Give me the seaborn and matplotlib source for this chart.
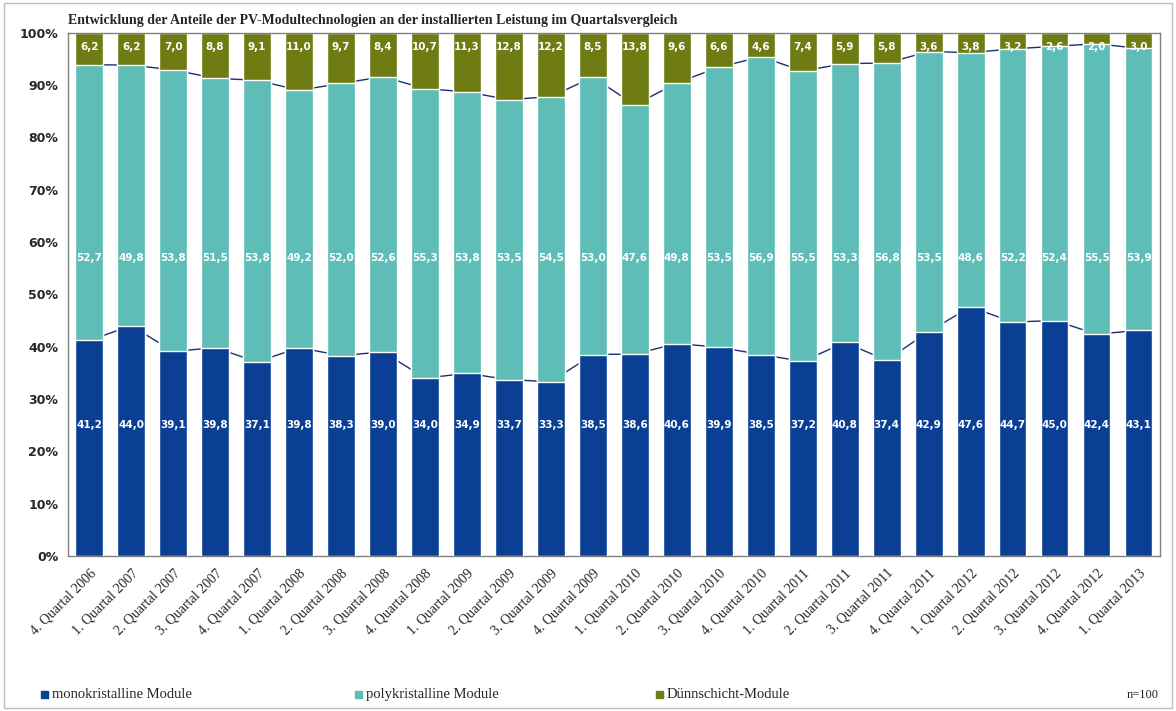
import matplotlib
matplotlib.use("Agg")
import matplotlib.pyplot as plt
from matplotlib.patches import Rectangle
import seaborn as sns
import numpy as np
import pandas as pd

quarters = ["4. Quartal 2006",
            "1. Quartal 2007", "2. Quartal 2007", "3. Quartal 2007", "4. Quartal 2007",
            "1. Quartal 2008", "2. Quartal 2008", "3. Quartal 2008", "4. Quartal 2008",
            "1. Quartal 2009", "2. Quartal 2009", "3. Quartal 2009", "4. Quartal 2009",
            "1. Quartal 2010", "2. Quartal 2010", "3. Quartal 2010", "4. Quartal 2010",
            "1. Quartal 2011", "2. Quartal 2011", "3. Quartal 2011", "4. Quartal 2011",
            "1. Quartal 2012", "2. Quartal 2012", "3. Quartal 2012", "4. Quartal 2012",
            "1. Quartal 2013"]
mono = [41.2, 44.0, 39.1, 39.8, 37.1, 39.8, 38.3, 39.0, 34.0, 34.9, 33.7, 33.3, 38.5,
        38.6, 40.6, 39.9, 38.5, 37.2, 40.8, 37.4, 42.9, 47.6, 44.7, 45.0, 42.4, 43.1]
poly = [52.7, 49.8, 53.8, 51.5, 53.8, 49.2, 52.0, 52.6, 55.3, 53.8, 53.5, 54.5, 53.0,
        47.6, 49.8, 53.5, 56.9, 55.5, 53.3, 56.8, 53.5, 48.6, 52.2, 52.4, 55.5, 53.9]
thin = [6.2, 6.2, 7.0, 8.8, 9.1, 11.0, 9.7, 8.4, 10.7, 11.3, 12.8, 12.2, 8.5,
        13.8, 9.6, 6.6, 4.6, 7.4, 5.9, 5.8, 3.6, 3.8, 3.2, 2.6, 2.0, 3.0]

c_mono, c_poly, c_thin = "#0b3f93", "#5ebdb6", "#6e7c13"

df = pd.DataFrame({"q": quarters, "mono": mono, "poly": poly, "thin": thin})
df["mp"] = df["mono"] + df["poly"]
# shares are rounded; stacked bars are shown at 100 %
df["top"] = 100.0

sns.set_style("white")
plt.rcParams["font.family"] = ["Liberation Serif", "DejaVu Serif"]

fig = plt.figure(figsize=(11.76, 7.11), dpi=100)
fig.patches.append(Rectangle((0.003, 0.004), 0.994, 0.992, transform=fig.transFigure,
                             fill=False, edgecolor="#bfbfbf", lw=1))
ax = fig.add_axes([0.058, 0.218, 0.928, 0.736])

x = np.arange(len(quarters))
ax.plot(x, df["mono"], color="#1a2f6e", lw=1, zorder=0)
ax.plot(x, df["mp"], color="#1a2f6e", lw=1, zorder=0)
w = 0.66
sns.barplot(data=df, x="q", y="top", color=c_thin, width=w, saturation=1, ax=ax, zorder=1)
sns.barplot(data=df, x="q", y="mp", color=c_poly, width=w, saturation=1, ax=ax, zorder=2)
sns.barplot(data=df, x="q", y="mono", color=c_mono, width=w, saturation=1, ax=ax, zorder=3)

fmt = lambda v: f"{v:.1f}".replace(".", ",")
for i in x:
    for yv, val in ((25, mono[i]), (57, poly[i]), (97.2, thin[i])):
        ax.text(i, yv, fmt(val), color="white", ha="center", va="center", fontsize=7.5,
                fontweight="bold", family="DejaVu Sans", zorder=5)

ax.set_ylim(0, 100)
ax.set_xlim(-0.5, len(quarters) - 0.5)
ax.set_yticks(range(0, 101, 10))
ax.set_yticklabels([f"{v}%" for v in range(0, 101, 10)], fontsize=9,
                   family="DejaVu Sans", fontweight="bold")
ax.set_xticks(x)
ax.set_xticklabels(quarters, rotation=45, ha="right", rotation_mode="anchor", fontsize=10)
ax.tick_params(axis="x", pad=4)
ax.set_xlabel("")
ax.set_ylabel("")
for s in ax.spines.values():
    s.set_color("#808080")
    s.set_linewidth(1)

fig.text(0.058, 0.962, "Entwicklung der Anteile der PV-Modultechnologien an der installierten Leistung im Quartalsvergleich",
         fontsize=10, fontweight="bold", va="bottom")

items = [(0.035, c_mono, "monokristalline Module"),
         (0.302, c_poly, "polykristalline Module"),
         (0.558, c_thin, "Dünnschicht-Module")]
for xp, c, lab in items:
    fig.patches.append(Rectangle((xp, 0.018), 0.006, 0.01, transform=fig.transFigure, color=c))
    fig.text(xp + 0.009, 0.023, lab, fontsize=10.5, va="center")
fig.text(0.985, 0.023, "n=100", fontsize=9, va="center", ha="right")

fig.savefig("out.png", dpi=100)
